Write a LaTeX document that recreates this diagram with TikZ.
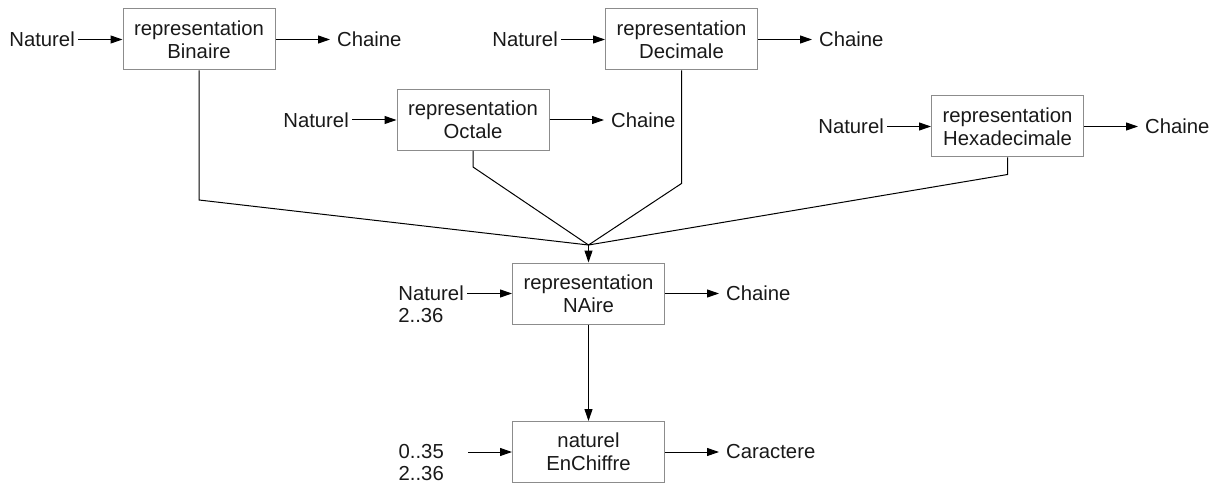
\documentclass[tikz,border=0pt]{standalone}
\usepackage{fontspec}
\setmainfont{Liberation Sans}
\usetikzlibrary{arrows.meta}
\begin{document}
\begin{tikzpicture}[x=1pt,y=-1pt,
  font=\fontsize{20.3}{23}\selectfont,
  fn/.style={draw=black!45, line width=1pt, minimum width=152pt, minimum height=61pt,
    inner sep=0pt, align=center, text=black!90},
  lbl/.style={inner sep=3pt, text=black!90},
  flow/.style={line width=1pt, -{Triangle[length=12pt,width=8pt]}},
  wire/.style={line width=1pt, line join=miter},
  result/.style={flow, shorten >=4pt}]
\useasboundingbox (0,0) rectangle (1218,484);

% function boxes
\node[fn] (bin) at (199,39.5) {representation\\Binaire};
\node[fn] (dec) at (681.5,39.5) {representation\\Decimale};
\node[fn] (oct) at (473,120) {representation\\Octale};
\node[fn] (hex) at (1007.5,126.5) {representation\\Hexadecimale};
\node[fn] (nai) at (588.5,293.5) {representation\\NAire};
\node[fn] (chf) at (588.5,452) {naturel\\EnChiffre};

% inputs
\node[lbl, anchor=east] (ibin) at (78,39.5) {Naturel};
\node[lbl, anchor=east] (idec) at (561,39.5) {Naturel};
\node[lbl, anchor=east] (ioct) at (352,120) {Naturel};
\node[lbl, anchor=east] (ihex) at (887,126.5) {Naturel};
\node[lbl, anchor=east] (inai) at (467,293.5) {Naturel};
\node[lbl, anchor=north west] (inai2) at (inai.south west) [yshift=-1pt] {2..36};
\node[lbl, anchor=east] (ichf) at (447,452) {0..35};
\node[lbl, anchor=north west] (ichf2) at (ichf.south west) [yshift=-1pt] {2..36};

% outputs
\node[lbl, anchor=west] (obin) at (334,39.5) {Chaine};
\node[lbl, anchor=west] (odec) at (816,39.5) {Chaine};
\node[lbl, anchor=west] (ooct) at (608,120) {Chaine};
\node[lbl, anchor=west] (ohex) at (1142,126.5) {Chaine};
\node[lbl, anchor=west] (onai) at (723,293.5) {Chaine};
\node[lbl, anchor=west] (ochf) at (723,452) {Caractere};

\draw[flow] (ibin) -- (bin);
\draw[flow] (idec) -- (dec);
\draw[flow] (ioct) -- (oct);
\draw[flow] (ihex) -- (hex);
\draw[flow] (inai) -- (nai);
\draw[flow, shorten <=21pt] (ichf) -- (chf);

\draw[result] (bin) -- (obin);
\draw[result] (dec) -- (odec);
\draw[result] (oct) -- (ooct);
\draw[result] (hex) -- (ohex);
\draw[result] (nai) -- (onai);
\draw[result] (chf) -- (ochf);

% all radix representations funnel into the generic one
\coordinate (merge) at (588.5,245);
\draw[wire] (bin.south) -- ++(0,129.5) -- (merge);
\draw[wire] (oct.south) -- ++(0,16) -- (merge);
\draw[wire] (dec.south) -- ++(0,113) -- (merge);
\draw[wire] (hex.south) -- ++(0,17) -- (merge);
\draw[flow] (merge) -- (nai.north);
\draw[flow] (nai) -- (chf);
\end{tikzpicture}
\end{document}
